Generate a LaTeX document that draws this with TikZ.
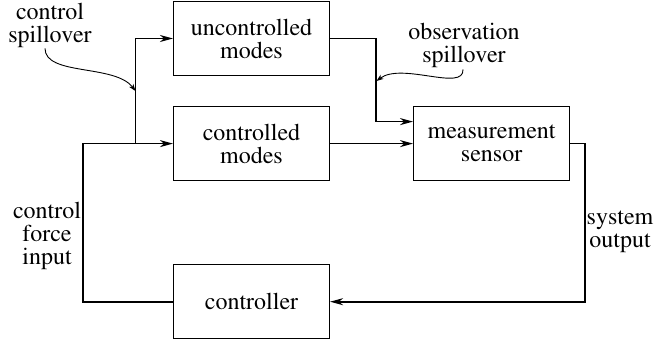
\documentclass[tikz,border=0pt]{standalone}
\usepackage[T1]{fontenc}
\usepackage{times}
\usetikzlibrary{positioning, arrows.meta}

\begin{document}
\begin{tikzpicture}[
    x=1pt, y=-1pt,
    >=Stealth,
    node distance=83pt,
    block/.style={draw, minimum width=156pt, minimum height=74pt, align=center,
                  line width=1.1pt, inner sep=0pt, font=\rmfamily\fontsize{24}{23}\selectfont},
    lbl/.style={align=center, inner sep=0pt, font=\rmfamily\fontsize{24}{23}\selectfont},
    arr/.style={draw, -{Stealth[length=13pt, width=7pt, inset=4pt]}, line width=1.6pt},
    spill/.style={draw, -{Stealth[length=7pt, width=5pt, inset=2pt]}, line width=0.9pt},
]
\useasboundingbox (0,0) rectangle (658,339);

% --- Blocks ---
\node[block] (unctrl) at (251.5,38.5) {uncontrolled\\modes};
\node[block, below=30pt of unctrl] (ctrl) {controlled\\modes};
\node[block, right=83pt of ctrl] (sensor) {measurement\\sensor};
\node[block, below=83pt of ctrl] (controller) {controller};

% --- Labels ---
\node[lbl] (cspill) at (50,25) {control\\spillover};
\node[lbl] (ospill) at (464,45) {observation\\spillover};
\node[lbl] (cfi) at (47,236) {control\\force\\input};
\node[lbl] (sysout) at (620,232) {system\\output};

\coordinate (fork) at ([xshift=-37.5pt]ctrl.west);
\coordinate (ctip) at (135.5,91);
\coordinate (otip) at (376.5,81);

% --- Arrows ---
\draw[arr] (controller.west) -- ++(-90pt,0) |- (ctrl.west);
\draw[arr] (fork) |- (unctrl.west);
\draw[arr] (unctrl.east) -- ++(46pt,0) |- ([yshift=22pt]sensor.west);
\draw[arr] (ctrl) -- (sensor);
\draw[arr] (sensor.east) -- ++(15pt,0) |- (controller.east);

% Spillover pointers
\draw[spill] ([xshift=-5pt,yshift=-1pt]cspill.south) .. controls (45,76) and (115,64) .. (ctip);
\draw[spill] ([xshift=-1pt,yshift=-2pt]ospill.south) .. controls (464,92) and (402,62) .. (otip);
\end{tikzpicture}
\end{document}
